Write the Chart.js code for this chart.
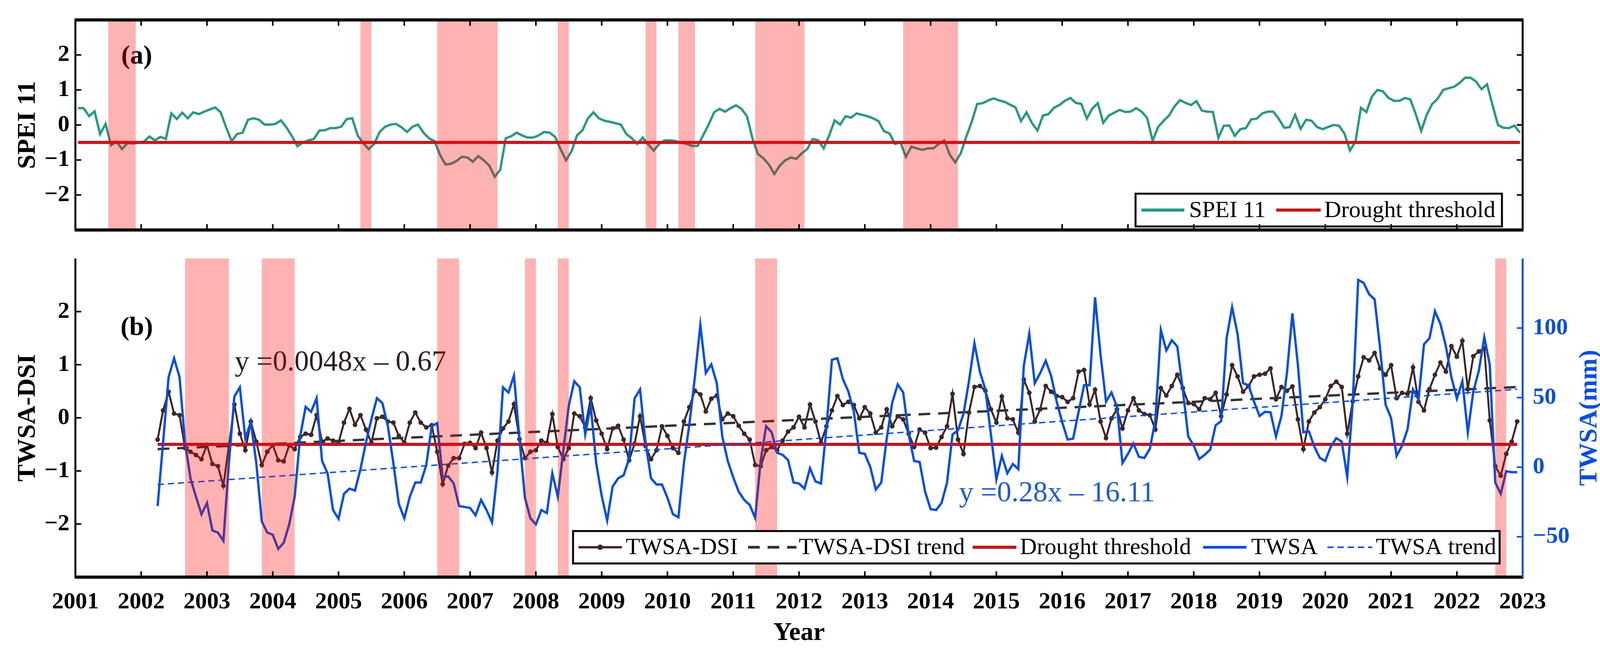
<!DOCTYPE html>
<html>
<head>
<meta charset="utf-8">
<script src="https://cdn.jsdelivr.net/npm/chart.js@4.4.1/dist/chart.umd.min.js"></script>
<style>
  html, body { margin: 0; padding: 0; background: #fff; }
  #wrap { position: relative; width: 4128px; height: 1680px; }
  #wrap canvas { position: absolute; left: 0; }
  #topCanvas { top: 0; }
  #bottomCanvas { top: 600px; }
</style>
</head>
<body>
<div id="wrap">
  <canvas id="topCanvas" width="4128" height="640"></canvas>
  <canvas id="bottomCanvas" width="4128" height="1080"></canvas>
</div>
<script>
// ---- values ----
const yearTicks = [2001, 2002, 2003, 2004, 2005, 2006, 2007, 2008, 2009, 2010, 2011, 2012,
                   2013, 2014, 2015, 2016, 2017, 2018, 2019, 2020, 2021, 2022, 2023];
const speiTicks = [-2, -1, 0, 1, 2];
const dsiTicks = [-2, -1, 0, 1, 2];
const twsaTicks = [-50, 0, 50, 100];

const droughtThreshold = -0.5;

// SPEI 11, monthly Jan 2001 - Dec 2022
const speiStart = 2001 + 0.5 / 12;
const spei11 = [
  0.48, 0.48, 0.25, 0.39, -0.26, 0.03, -0.58, -0.48, -0.69, -0.52,
  -0.53, -0.51, -0.48, -0.33, -0.44, -0.34, -0.40, 0.33, 0.17, 0.35,
  0.19, 0.36, 0.31, 0.38, 0.44, 0.50, 0.36, -0.07, -0.46, -0.26,
  -0.22, 0.15, 0.19, 0.15, 0.01, 0.01, 0.03, 0.13, -0.07, -0.32,
  -0.61, -0.50, -0.44, -0.40, -0.16, -0.15, -0.09, -0.09, -0.05, 0.17,
  0.19, -0.30, -0.52, -0.69, -0.54, -0.20, -0.05, 0.01, 0.03, -0.07,
  -0.20, -0.05, 0.01, -0.22, -0.38, -0.46, -0.85, -1.13, -1.11, -1.03,
  -0.91, -0.93, -1.05, -0.89, -1.01, -1.16, -1.48, -1.28, -0.38, -0.32,
  -0.22, -0.30, -0.36, -0.36, -0.30, -0.20, -0.22, -0.34, -0.69, -1.01,
  -0.75, -0.30, -0.15, 0.19, 0.36, 0.19, 0.12, 0.09, 0.05, 0.01,
  -0.26, -0.38, -0.54, -0.36, -0.56, -0.73, -0.54, -0.44, -0.44, -0.46,
  -0.51, -0.54, -0.60, -0.60, -0.30, 0.01, 0.36, 0.46, 0.38, 0.48,
  0.56, 0.46, 0.25, -0.38, -0.83, -0.95, -1.13, -1.40, -1.16, -1.01,
  -0.93, -0.97, -0.81, -0.69, -0.40, -0.44, -0.67, -0.30, 0.13, 0.01,
  0.25, 0.21, 0.33, 0.29, 0.25, 0.19, 0.11, -0.18, -0.24, -0.54,
  -0.50, -0.91, -0.62, -0.67, -0.71, -0.67, -0.67, -0.54, -0.44, -0.85,
  -1.07, -0.81, -0.34, 0.09, 0.60, 0.62, 0.70, 0.76, 0.70, 0.66,
  0.58, 0.50, 0.11, 0.36, 0.05, -0.16, 0.27, 0.31,
  0.49, 0.57, 0.69, 0.77, 0.63, 0.60, 0.18, 0.47, 0.62, 0.06,
  0.27, 0.35, 0.43, 0.37, 0.38, 0.48, 0.38, 0.20, -0.45, -0.06,
  0.12, 0.27, 0.53, 0.71, 0.63, 0.57, 0.68, 0.41, 0.38, 0.37,
  -0.37, -0.02, -0.02, -0.31, -0.12, -0.09, 0.16, 0.18, 0.33, 0.38,
  0.38, 0.18, -0.08, -0.06, 0.29, -0.11, 0.15, 0.12, -0.06, -0.12,
  -0.06, 0.00, -0.02, -0.25, -0.73, -0.48, 0.49, 0.37, 0.81, 1.00,
  0.96, 0.78, 0.69, 0.69, 0.77, 0.73, 0.31, -0.17, 0.29, 0.60,
  0.75, 1.00, 1.05, 1.09, 1.20, 1.35, 1.35, 1.24, 1.02, 1.16,
  0.57, 0.00, -0.08, -0.09, -0.02, -0.22
];

// TWSA-DSI and TWSA, monthly from spring 2002
const graceStart = 2002.25;
const twsaDsi = [
  -0.41, 0.14, 0.49, 0.08, 0.05, -0.57, -0.64, -0.70, -0.78, -0.51,
  -0.87, -0.91, -1.28, -0.53, 0.25, -0.30, -0.61, -0.07, -0.45, -0.89,
  -0.64, -0.51, -0.80, -0.82, -0.52, -0.59, -0.36, -0.30, -0.32, 0.05,
  -0.45, -0.39, -0.43, -0.47, -0.09, 0.17, -0.13, 0.05, -0.22, -0.47,
  -0.01, 0.02, -0.07, -0.09, -0.34, -0.47, -0.09, 0.10, -0.09, -0.18,
  -0.14, -0.64, -1.25, -0.90, -0.76, -0.76, -0.49, -0.47, -0.57, -0.28,
  -0.57, -1.03, -0.43, -0.20, -0.07, 0.26, -0.40,
  -0.76, -0.64, -0.61, -0.43, -0.47, 0.07, -0.55, -0.78, -0.57, 0.08,
  0.03, -0.18, 0.37, -0.05, -0.30, -0.59, -0.20, -0.15, -0.41, -0.80,
  -0.49, 0.03, -0.53, -0.78, -0.61, -0.16, -0.34, -0.57, -0.66, -0.07,
  0.20, 0.51, 0.44, 0.12, 0.36, 0.42, -0.03, 0.08, 0.03, -0.15,
  -0.30, -0.41, -0.89, -0.91, -0.61, -0.55, -0.61, -0.43, -0.26, -0.18,
  0.02, -0.18, 0.25, -0.07, -0.47, -0.16, 0.14, 0.41, 0.24, 0.30,
  0.24, -0.01, 0.20, 0.08, -0.28, -0.18, 0.16,
  -0.16, 0.03, -0.03, -0.30, -0.55, -0.22, -0.28, -0.57, -0.56, -0.36,
  -0.16, 0.45, -0.41, -0.68, 0.10, 0.58, 0.60, 0.51, 0.16, -0.09,
  0.40, -0.01, -0.03, -0.28, 0.72, 0.47, -0.07, 0.16, 0.60, 0.49,
  0.41, 0.39, 0.30, 0.37, 0.87, 0.90, 0.25, 0.53, -0.07, -0.38,
  -0.01, 0.16, -0.20, 0.14, 0.37, 0.14, 0.07, 0.05, -0.22, 0.56,
  0.42, 0.60, 0.81, 0.56, 0.28, 0.26, 0.16, 0.37, 0.35, 0.47,
  0.03, 0.44, 0.99, 0.78, 0.49, 0.60,
  0.78, 0.81, 0.83, 0.93, 0.35, 0.58, 0.51, 0.59, -0.03, -0.59,
  -0.07, 0.10, 0.20, 0.35, 0.60, 0.68, 0.58, -0.30, 0.31, 0.78,
  1.14, 1.08, 1.22, 0.93, 0.81, 0.99, 0.37, 0.47, 0.45, 0.95,
  0.30, 0.14, 0.54, 0.81, 1.04, 0.87, 1.35, 1.15, 1.45, 0.54,
  1.16, 1.25, 1.31, -0.05, -0.91, -1.09, -0.68, -0.45, -0.07
];
const twsa = [
  -27.9, 18.0, 64.7, 78.3, 64.7, 17.7, -8.0, -21.3, -33.8, -25.7,
  -45.5, -47.0, -52.9, 3.0, 50.8, 57.4, 20.6, 32.4, 3.0, -38.9,
  -47.0, -48.5, -58.7, -54.3, -41.1, -21.3, 22.1, 43.4, 39.8, 49.6,
  4.5, -4.4, -30.8, -37.1, -19.1, -15.4, -16.8, -1.4, 17.7, 34.6,
  49.6, 46.1, 29.5, 3.0, -26.4, -36.7, -21.3, -11.0, -11.0, 1.5,
  29.5, 31.7, -7.3, -6.6, -11.7, -27.9, -28.6, -29.3, -34.5, -23.5,
  -30.8, -39.6, -2.9, 57.4, 53.7, 65.9, 20.6,
  -22.0, -36.7, -41.1, -30.8, -33.0, -4.4, -21.3, 11.8, 44.2, 61.8,
  57.4, 23.6, 44.2, 3.0, -20.5, -38.2, -13.9, -8.0, -5.8, 6.0,
  49.3, 55.9, 17.7, -8.0, -12.4, -12.4, -22.0, -33.8, -36.0, 3.0,
  30.9, 64.7, 102.2, 67.7, 73.9, 60.3, 22.1, 4.5, -7.3, -17.6,
  -23.5, -27.1, -36.4, 4.5, 29.5, 25.1, 10.3, 8.9, 5.2, -11.0,
  -11.7, -15.4, -0.7, -10.2, -11.7, 28.0, 77.2, 78.3, 63.3, 54.4,
  39.8, 10.3, 9.6, 0.1, -16.1, -11.0, 20.6,
  46.4, 59.6, 53.7, 23.6, 4.5, 3.7, -17.6, -30.1, -30.8, -25.7,
  -11.0, 23.6, 26.5, 38.3, 61.8, 89.0, 68.4, 55.9, 23.6, -8.8,
  8.1, -4.4, 2.3, -1.4, 72.8, 95.9, 60.3, 67.7, 76.5, 65.5,
  47.1, 32.4, 19.9, 20.6, 39.8, 58.9, 58.9, 122.1, 80.9, 47.1,
  53.7, 43.4, 3.0, 9.6, 17.0, 7.4, 6.7, 13.3, 33.9, 98.6,
  83.9, 91.2, 86.8, 55.9, 22.1, 15.5, 5.9, 8.9, 12.6, 30.2,
  33.1, 92.7, 115.0, 95.6, 60.3, 58.9,
  47.1, 36.8, 39.8, 39.5, 22.1, 36.8, 67.7, 110.6, 73.6, 25.1,
  25.8, 14.8, 6.7, 4.5, 14.8, 20.9, 18.4, -7.0, 46.4, 134.6,
  132.4, 124.3, 120.6, 85.3, 44.9, 35.3, 8.1, 15.5, 27.3, 55.9,
  48.6, 88.3, 92.7, 112.1, 103.0, 86.8, 64.7, 49.3, 61.8, 25.1,
  54.4, 69.2, 93.4, 73.6, -11.0, -19.1, -2.9, -3.6, -3.6
];

// fitted trend lines, value at first and last month
const dsiTrendEnds = [-0.59, 0.58];
const twsaTrendEnds = [-12.5, 56];

// drought periods (decimal years)
const speiDroughts = [[2001.5, 2001.917], [2005.333, 2005.5], [2006.5, 2007.417], [2008.333, 2008.5],
                      [2009.667, 2009.833], [2010.167, 2010.417], [2011.333, 2012.083], [2013.583, 2014.417]];
const dsiDroughts = [[2002.667, 2003.333], [2003.833, 2004.333], [2006.5, 2006.833], [2007.833, 2008.0],
                     [2008.333, 2008.5], [2011.333, 2011.667], [2022.583, 2022.75]];

// ---- helpers ----
const SERIF = "'Liberation Serif', 'Times New Roman', serif";
const BLUE = '#0a4fd8';
const TEAL = '#2c9783';
const RED = '#c3161c';
const DSI_COL = '#3d2729';

Chart.defaults.font.family = SERIF;
Chart.defaults.color = '#000';

const monthly = (start, vals) => vals.map((v, i) => ({x: start + i / 12, y: v}));
const endsLine = (start, n, ends) => [{x: start, y: ends[0]}, {x: start + (n - 1) / 12, y: ends[1]}];
const flat = (start, n, v) => [{x: start, y: v}, {x: start + (n - 1) / 12, y: v}];
const fixTicks = vals => s => { s.ticks = vals.map(v => ({value: v})); };
const minusFmt = v => (v < 0 ? '\u2212' + Math.abs(v) : String(v));

// draws text, shading, legend box, frame and inward ticks
const decor = {
  id: 'decor',
  afterDatasetsDraw(chart, args, o) {
    const ctx = chart.ctx, a = chart.chartArea, xs = chart.scales.x;
    ctx.save();

    (o.texts || []).forEach(t => {
      ctx.save();
      ctx.font = t.font;
      ctx.fillStyle = t.color;
      ctx.textAlign = t.align || 'left';
      ctx.textBaseline = t.baseline || 'alphabetic';
      const ty = t.y === 'mid' ? (a.top + a.bottom) / 2 : t.y;
      ctx.translate(t.x, ty);
      if (t.rotate) ctx.rotate(t.rotate);
      ctx.fillText(t.text, 0, 0);
      ctx.restore();
    });

    ctx.fillStyle = 'rgba(255,0,0,0.3)';
    o.bands.forEach(([s, e]) => {
      const x0 = xs.getPixelForValue(s), x1 = xs.getPixelForValue(e);
      ctx.fillRect(x0, a.top, x1 - x0, a.bottom - a.top);
    });

    if (o.legend) {
      const L = o.legend, [bx0, by0, bx1, by1] = L.box, cy = (by0 + by1) / 2;
      ctx.fillStyle = '#fff';
      ctx.fillRect(bx0, by0, bx1 - bx0, by1 - by0);
      ctx.strokeStyle = '#000';
      ctx.lineWidth = 5;
      ctx.setLineDash([]);
      ctx.strokeRect(bx0, by0, bx1 - bx0, by1 - by0);
      ctx.font = '60px ' + SERIF;
      ctx.textBaseline = 'middle';
      ctx.textAlign = 'left';
      L.items.forEach(it => {
        const ds = chart.data.datasets[it.ds];
        ctx.strokeStyle = ds.borderColor;
        ctx.lineWidth = it.lw;
        ctx.setLineDash(ds.borderDash || []);
        ctx.beginPath();
        ctx.moveTo(it.x0, cy);
        ctx.lineTo(it.x1, cy);
        ctx.stroke();
        ctx.setLineDash([]);
        if (ds.pointRadius) {
          ctx.fillStyle = ds.borderColor;
          ctx.beginPath();
          ctx.arc((it.x0 + it.x1) / 2, cy, ds.pointRadius + 1, 0, Math.PI * 2);
          ctx.fill();
        }
        ctx.fillStyle = '#000';
        ctx.fillText(it.text, it.tx, cy + 2);
      });
    }

    // frame
    const F = o.frame;
    const edge = (x0, y0, x1, y1, w, c) => {
      ctx.strokeStyle = c; ctx.lineWidth = w; ctx.setLineDash([]);
      ctx.beginPath(); ctx.moveTo(x0, y0); ctx.lineTo(x1, y1); ctx.stroke();
    };
    if (F.top) edge(a.left - 2, a.top, a.right + 2, a.top, F.top, '#000');
    edge(a.left - 2, a.bottom, a.right + 2, a.bottom, F.bottom, '#000');
    edge(a.left, a.top, a.left, a.bottom, F.side, '#000');
    edge(a.right, a.top, a.right, a.bottom, F.side, F.rightColor);

    const tl = 15;
    ctx.lineWidth = 4;
    ctx.strokeStyle = '#000';
    yearTicks.slice(1, -1).forEach(yr => {
      const px = xs.getPixelForValue(yr);
      ctx.beginPath();
      if (F.xTop) { ctx.moveTo(px, a.top); ctx.lineTo(px, a.top + tl); }
      ctx.moveTo(px, a.bottom); ctx.lineTo(px, a.bottom - tl);
      ctx.stroke();
    });
    F.yTicks.forEach(t => {
      const sc = chart.scales[t.scale];
      ctx.strokeStyle = t.color;
      t.values.forEach(v => {
        const py = sc.getPixelForValue(v);
        ctx.beginPath();
        if (t.side === 'left') { ctx.moveTo(a.left, py); ctx.lineTo(a.left + tl, py); }
        else { ctx.moveTo(a.right, py); ctx.lineTo(a.right - tl, py); }
        ctx.stroke();
      });
    });
    ctx.restore();
  }
};

const tickFont = {size: 60, weight: 'bold'};
const titleFont = {size: 66, weight: 'bold'};

// ---- panel (a): SPEI 11 ----
new Chart(document.getElementById('topCanvas'), {
  type: 'line',
  data: {
    datasets: [
      {label: 'SPEI 11', data: monthly(speiStart, spei11), borderColor: TEAL, borderWidth: 6,
       pointRadius: 0, order: 1},
      {label: 'Drought threshold', data: flat(speiStart, spei11.length, droughtThreshold),
       borderColor: RED, borderWidth: 8, pointRadius: 0, order: 0}
    ]
  },
  options: {
    responsive: false,
    devicePixelRatio: 1,
    animation: false,
    events: [],
    layout: {padding: {left: 0, right: 230, top: 48, bottom: 21}},
    scales: {
      x: {type: 'linear', min: 2001, max: 2023, display: false},
      y: {
        min: -3, max: 3,
        afterBuildTicks: fixTicks(speiTicks),
        afterFit: s => { s.width = 193; },
        ticks: {font: tickFont, color: '#000', padding: 15, callback: minusFmt},
        grid: {display: false, drawTicks: false},
        border: {display: false},
        title: {display: true, text: 'SPEI 11', font: titleFont, color: '#000', padding: {top: 32, bottom: 0}}
      }
    },
    plugins: {
      legend: {display: false},
      tooltip: {enabled: false},
      decor: {
        bands: speiDroughts,
        texts: [{text: '(a)', x: 350, y: 145, font: 'bold 68px ' + SERIF, color: '#000', align: 'center', baseline: 'middle'}],
        legend: {
          box: [2907, 496, 3845, 580],
          items: [
            {ds: 0, x0: 2922, x1: 3032, tx: 3044, text: 'SPEI 11', lw: 8},
            {ds: 1, x0: 3267, x1: 3381, tx: 3390, text: 'Drought threshold', lw: 8}
          ]
        },
        frame: {top: 8, bottom: 8, side: 5, rightColor: '#000', xTop: true,
                yTicks: [{scale: 'y', side: 'left', values: speiTicks, color: '#000'},
                         {scale: 'y', side: 'right', values: speiTicks, color: '#000'}]}
      }
    }
  },
  plugins: [decor]
});

// ---- panel (b): TWSA-DSI and TWSA ----
const n = twsaDsi.length;
new Chart(document.getElementById('bottomCanvas'), {
  type: 'line',
  data: {
    datasets: [
      {label: 'TWSA-DSI', data: monthly(graceStart, twsaDsi), yAxisID: 'y', borderColor: DSI_COL,
       backgroundColor: DSI_COL, borderWidth: 5, pointRadius: 6, pointBorderWidth: 0, order: 4},
      {label: 'TWSA-DSI trend', data: endsLine(graceStart, n, dsiTrendEnds), yAxisID: 'y', borderColor: '#333',
       borderWidth: 6, borderDash: [30, 20], pointRadius: 0, order: 3},
      {label: 'Drought threshold', data: flat(graceStart, n, droughtThreshold), yAxisID: 'y', borderColor: RED,
       borderWidth: 8, pointRadius: 0, order: 2},
      {label: 'TWSA', data: monthly(graceStart, twsa), yAxisID: 'y2', borderColor: BLUE,
       borderWidth: 6, pointRadius: 0, order: 1},
      {label: 'TWSA trend', data: endsLine(graceStart, n, twsaTrendEnds), yAxisID: 'y2', borderColor: BLUE,
       borderWidth: 3.5, borderDash: [16, 10], pointRadius: 0, order: 0}
    ]
  },
  options: {
    responsive: false,
    devicePixelRatio: 1,
    animation: false,
    events: [],
    layout: {padding: {left: 0, right: 0, top: 19, bottom: 0}},
    scales: {
      x: {
        type: 'linear', min: 2001, max: 2023,
        afterBuildTicks: fixTicks(yearTicks),
        afterFit: s => { s.height = 202; },
        ticks: {font: tickFont, color: '#000', padding: 28, maxRotation: 0, autoSkip: false, callback: v => String(v)},
        grid: {display: false, drawTicks: false},
        border: {display: false},
        title: {display: true, text: 'Year', font: titleFont, color: '#000', padding: {top: 0, bottom: 18}}
      },
      y: {
        position: 'left', min: -3, max: 3,
        afterBuildTicks: fixTicks(dsiTicks),
        afterFit: s => { s.width = 193; },
        ticks: {font: tickFont, color: '#000', padding: 15, callback: minusFmt},
        grid: {display: false, drawTicks: false},
        border: {display: false},
        title: {display: true, text: 'TWSA-DSI', font: titleFont, color: '#000', padding: {top: 32, bottom: 0}}
      },
      y2: {
        position: 'right', min: -79, max: 150,
        afterBuildTicks: fixTicks(twsaTicks),
        afterFit: s => { s.width = 230; },
        ticks: {font: tickFont, color: BLUE, padding: 26, callback: minusFmt},
        grid: {display: false, drawTicks: false},
        border: {display: false}
      }
    },
    plugins: {
      legend: {display: false},
      tooltip: {enabled: false},
      decor: {
        bands: dsiDroughts,
        texts: [
          {text: '(b)', x: 350, y: 240, font: 'bold 68px ' + SERIF, color: '#000', align: 'center', baseline: 'middle'},
          {text: 'y =0.0048x \u2013 0.67', x: 601, y: 349, font: '74px ' + SERIF, color: '#2b1f1f'},
          {text: 'y =0.28x \u2013 16.11', x: 2455, y: 684, font: '74px ' + SERIF, color: '#1f5ccf'},
          {text: 'TWSA(mm)', x: 4070, y: 'mid', font: 'bold 66px ' + SERIF, color: BLUE, align: 'center',
           baseline: 'middle', rotate: -Math.PI / 2}
        ],
        legend: {
          box: [1467, 760, 3839, 843],
          items: [
            {ds: 0, x0: 1481, x1: 1592, tx: 1602, text: 'TWSA-DSI', lw: 6},
            {ds: 1, x0: 1915, x1: 2039, tx: 2045, text: 'TWSA-DSI trend', lw: 7},
            {ds: 2, x0: 2490, x1: 2602, tx: 2611, text: 'Drought threshold', lw: 8},
            {ds: 3, x0: 3080, x1: 3191, tx: 3203, text: 'TWSA', lw: 7},
            {ds: 4, x0: 3398, x1: 3513, tx: 3522, text: 'TWSA trend', lw: 4}
          ]
        },
        frame: {top: 0, bottom: 8, side: 5, rightColor: BLUE, xTop: false,
                yTicks: [{scale: 'y', side: 'left', values: dsiTicks, color: '#000'},
                         {scale: 'y2', side: 'right', values: twsaTicks, color: BLUE}]}
      }
    }
  },
  plugins: [decor]
});
</script>
</body>
</html>
